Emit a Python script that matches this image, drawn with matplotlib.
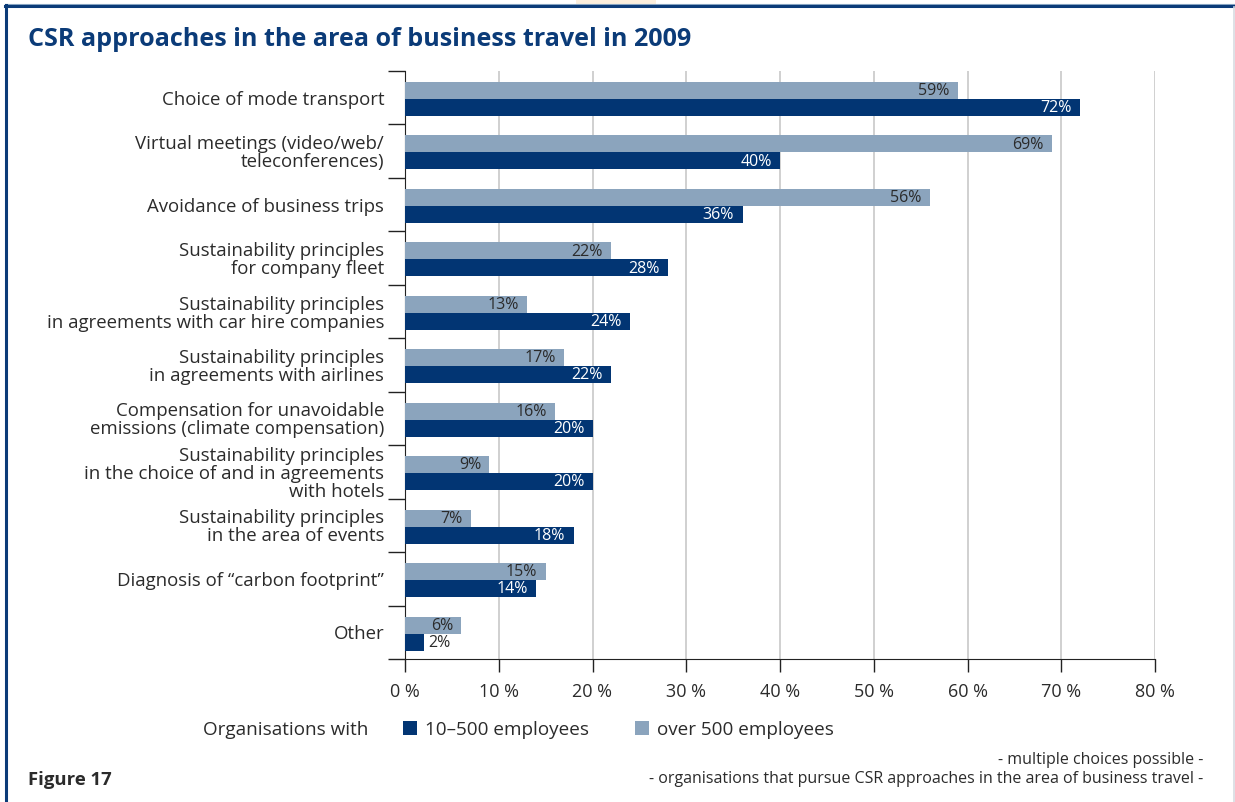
import matplotlib.pyplot as plt
import numpy as np
from matplotlib.lines import Line2D
from matplotlib.patches import Rectangle

plt.rcParams['font.family'] = ['Open Sans', 'DejaVu Sans']

categories = [
    'Choice of mode transport',
    'Virtual meetings (video/web/\nteleconferences)',
    'Avoidance of business trips',
    'Sustainability principles\nfor company fleet',
    'Sustainability principles\nin agreements with car hire companies',
    'Sustainability principles\nin agreements with airlines',
    'Compensation for unavoidable\nemissions (climate compensation)',
    'Sustainability principles\nin the choice of and in agreements\nwith hotels',
    'Sustainability principles\nin the area of events',
    'Diagnosis of \u201ccarbon footprint\u201d',
    'Other',
]
small_orgs = [72, 40, 36, 28, 24, 22, 20, 20, 18, 14, 2]   # 10-500 employees
large_orgs = [59, 69, 56, 22, 13, 17, 16, 9, 7, 15, 6]     # over 500 employees
x_ticks = [0, 10, 20, 30, 40, 50, 60, 70, 80]

DARK = '#023573'
LIGHT = '#8ba4bd'
TEXT = '#2b2b2b'

W, H = 1235, 802
fig = plt.figure(figsize=(W / 100, H / 100), dpi=100)
ax = fig.add_axes([405 / W, 1 - 659 / H, 750 / W, 588 / H])

y = np.arange(len(categories))
bh = 0.318
light = ax.barh(y - 0.135, large_orgs, height=bh, color=LIGHT, zorder=3,
                label='over 500 employees')
dark = ax.barh(y + 0.183, small_orgs, height=bh, color=DARK, zorder=3,
               label='10\u2013500 employees')

# value labels: inside the bar end, outside when the bar is too short
for bars, vals, col in ((light, large_orgs, TEXT), (dark, small_orgs, 'white')):
    for b, v in zip(bars, vals):
        cy = b.get_y() + b.get_height() / 2
        if v >= 5:
            ax.annotate(f'{v}%', (v, cy), xytext=(-6, -0.5), textcoords='offset points',
                        ha='right', va='center', fontsize=11.5, color=col, zorder=4)
        else:
            ax.annotate(f'{v}%', (v, cy), xytext=(3, -0.5), textcoords='offset points',
                        ha='left', va='center', fontsize=11.5, color=TEXT, zorder=4)

ax.set_xlim(0, 80)
ax.set_ylim(len(categories) - 0.5, -0.5)
ax.set_xticks(x_ticks)
ax.set_xticklabels([f'{t} %' for t in x_ticks])
ax.tick_params(axis='x', length=9, width=1, pad=8, color='#222222',
               labelsize=13, labelcolor=TEXT)

ax.set_yticks(np.arange(-0.5, len(categories), 1))
ax.set_yticklabels([])
ax.set_yticks(y, minor=True)
ax.set_yticklabels(categories, minor=True, linespacing=1.0)
ax.tick_params(axis='y', which='major', length=12, width=1, color='#222222')
ax.tick_params(axis='y', which='minor', length=0, pad=15, labelsize=13.4,
               labelcolor=TEXT)

ax.grid(axis='x', color='#c8c8c8', linewidth=1.2, zorder=0)
for s in ('top', 'right'):
    ax.spines[s].set_visible(False)
ax.spines['left'].set_color('#222222')
ax.spines['bottom'].set_color('#222222')

fig.text(28 / W, 1 - 39 / H, 'CSR approaches in the area of business travel in 2009',
         fontsize=18.1, fontweight='bold', color='#0b3b78', va='center', ha='left')

fig.text(368 / W, 1 - 730 / H, 'Organisations with', fontsize=13.6, color=TEXT,
         ha='right', va='center')
fig.legend(handles=[dark, light], loc='center left', bbox_to_anchor=(386 / W, 1 - 730 / H),
           ncol=2, frameon=False, fontsize=13.6, handlelength=0.75, handleheight=0.75,
           handletextpad=0.4, columnspacing=2.46, labelcolor=TEXT)

fig.text(1203 / W, 1 - 760 / H, '- multiple choices possible -', fontsize=11.5,
         color=TEXT, ha='right', va='center')
fig.text(1203 / W, 1 - 779 / H,
         '- organisations that pursue CSR approaches in the area of business travel -',
         fontsize=11.5, color=TEXT, ha='right', va='center')
fig.text(28 / W, 1 - 780 / H, 'Figure 17', fontsize=13.3, fontweight='bold',
         color=TEXT, ha='left', va='center')

# page frame
fig.add_artist(Rectangle((576 / W, 1 - 4 / H), 80 / W, 4 / H, transform=fig.transFigure,
                         color='#fbeedd', lw=0))
fig.add_artist(Line2D([5 / W, 1], [1 - 3.5 / H] * 2, color='#8aa6c4', lw=0.8))
fig.add_artist(Line2D([5 / W, 1], [1 - 6 / H] * 2, color='#0b3b78', lw=2.2))
fig.add_artist(Line2D([6 / W] * 2, [0, 1 - 5 / H], color='#0b3b78', lw=2.2))
fig.add_artist(Line2D([1233.5 / W] * 2, [0, 1 - 7 / H], color='#d8dce2', lw=1.2))

fig.savefig('out.png', dpi=100)
